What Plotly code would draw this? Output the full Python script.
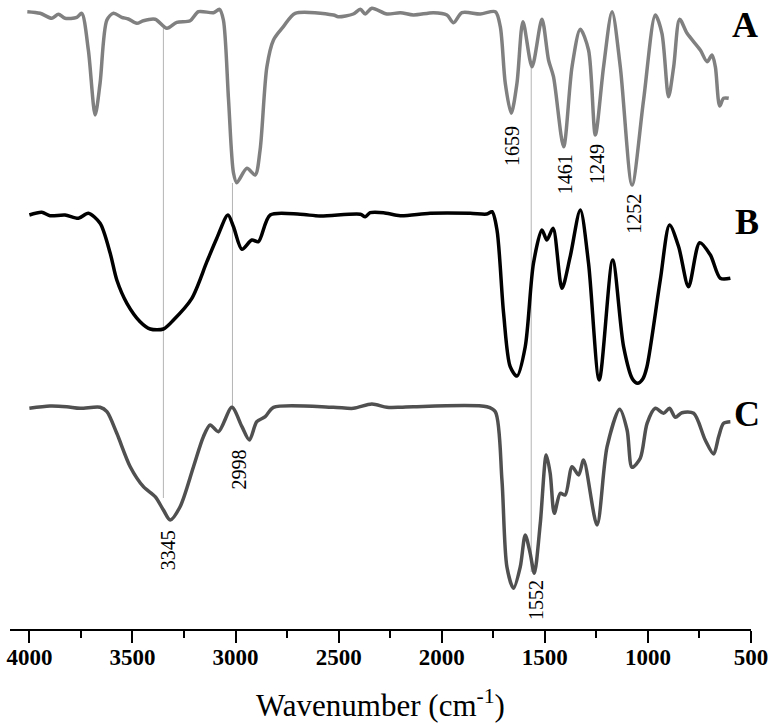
import plotly.graph_objects as go

# Spectrum A (arbitrary transmittance units, offset)
wn_a = [4010, 3948, 3891, 3859, 3827, 3770, 3746, 3714, 3681, 3657, 3624, 3592, 3552, 3520,
        3479, 3447, 3390, 3333, 3285, 3220, 3180, 3107, 3078, 3059, 3034, 3010, 2994, 2945,
        2905, 2881, 2848, 2816, 2768, 2711, 2525, 2502, 2429, 2395, 2371, 2339, 2266, 2201,
        2137, 2040, 1975, 1943, 1902, 1813, 1740, 1716, 1692, 1663, 1635, 1606, 1562, 1514,
        1482, 1458, 1409, 1368, 1328, 1288, 1255, 1215, 1174, 1134, 1077, 1021, 964, 932,
        900, 875, 846, 810, 746, 713, 689, 673, 652, 633, 608]
t_a = [617.3, 615.7, 610.7, 614.7, 610.7, 611.7, 615.7, 579, 514, 546, 609, 615.7, 611.7, 610,
       605.7, 608.3, 609.7, 600.7, 606.7, 608.3, 617.3, 616.3, 619.7, 609, 529, 456, 446.3, 460.7,
       454, 479, 562.3, 589, 602.3, 615.7, 614, 612.3, 615, 619.7, 615, 620.7, 615, 616.3,
       614, 616.3, 614, 606.3, 616.3, 615, 617.3, 602.3, 546, 515.7, 546, 607.3, 562.3, 609.7,
       569, 552.3, 482.3, 562.3, 599.7, 579, 494, 562.3, 617.3, 562.3, 444, 529, 614, 595.7,
       532.3, 562.3, 609.7, 595.7, 579, 567.3, 574, 562.3, 523, 530.7, 530.7]

# Spectrum B
wn_b = [4000, 3940, 3900, 3827, 3762, 3714, 3657, 3608, 3576, 3527, 3463, 3414, 3350, 3301,
        3212, 3139, 3091, 3037, 3010, 2969, 2921, 2889, 2832, 2687, 2590, 2395, 2371, 2347,
        2282, 2201, 2056, 1862, 1781, 1756, 1732, 1700, 1668, 1635, 1595, 1555, 1514, 1490,
        1460, 1417, 1377, 1328, 1288, 1236, 1171, 1118, 1075, 1050, 1025, 1005, 940, 895,
        851, 803, 749, 697, 649, 600]
t_b = [414, 416.7, 413.3, 414, 410.7, 415.7, 405.7, 375.7, 349, 325.7, 307.3, 300, 300, 309,
       330.7, 367.3, 390.7, 414, 402.3, 379.7, 389, 387.3, 414, 414.7, 413, 414.7, 412.3, 416.3,
       416.3, 413.3, 415.7, 415.7, 415, 417.3, 399, 315.7, 262.3, 253, 282.3, 365.7, 399, 389,
       400.7, 340.7, 372.3, 419, 365.7, 249, 369, 282.3, 250, 245.7, 250, 262, 349, 404,
       382.3, 342.3, 386.3, 374, 350.7, 350.7]

# Spectrum C
wn_c = [4000, 3900, 3819, 3754, 3657, 3624, 3576, 3511, 3447, 3390, 3350, 3317, 3269, 3204,
        3156, 3123, 3083, 3018, 2969, 2933, 2897, 2856, 2816, 2526, 2428, 2339, 2266, 2201,
        2137, 1781, 1740, 1708, 1684, 1652, 1619, 1595, 1571, 1551, 1522, 1493, 1474, 1454,
        1425, 1401, 1368, 1336, 1312, 1247, 1198, 1137, 1101, 1077, 1037, 1004, 964, 924,
        895, 867, 835, 778, 722, 681, 657, 633, 600]
t_c = [220.7, 223, 222.3, 220.7, 221.7, 217.3, 195.7, 162.3, 142.3, 132.3, 119, 109, 122.3, 162.3,
       192.3, 204, 197.3, 221.7, 202.3, 189, 207.3, 212.3, 221.7, 221.7, 220.7, 225, 221.7, 221.7,
       222.3, 222.3, 217.3, 149, 62.3, 40.7, 62.3, 94, 75.7, 55.7, 105.7, 174, 155.7, 115.7,
       135.7, 134, 162.3, 154, 169, 104, 182.3, 219.7, 199, 161.7, 170.7, 205.7, 220.7, 215.7,
       220.7, 211.7, 216.3, 215.7, 189, 175, 192.3, 205.7, 207.3]

# Guide lines
guide_wn = [3350, 3015, 1566]
guide_top = [601, 446, 562]
guide_bottom = [131, 222, 57]

# Peak labels
peak_text = ["1659", "1461", "1249", "1252", "3345", "2998", "1552"]
peak_wn = [1659, 1401, 1247, 1069, 3326, 2981, 1543]
peak_t = [483, 455, 465, 415, 79, 160, 29]

# Spectrum labels
spec_text = ["A", "B", "C"]
spec_wn = [527, 519, 519]
spec_t = [604, 407, 215]

tick_vals = [4000, 3500, 3000, 2500, 2000, 1500, 1000, 500]

SERIF = "Liberation Serif, Times New Roman, serif"

fig = go.Figure()

for w, y0, y1 in zip(guide_wn, guide_top, guide_bottom):
    fig.add_trace(go.Scatter(x=[w, w], y=[y0, y1], mode="lines",
                             line=dict(color="#b4b4b4", width=1), hoverinfo="skip"))

fig.add_trace(go.Scatter(x=wn_a, y=t_a, mode="lines", name="A",
                         line=dict(color="#808080", width=3.5, shape="spline", smoothing=0.8)))
fig.add_trace(go.Scatter(x=wn_b, y=t_b, mode="lines", name="B",
                         line=dict(color="#000000", width=3.5, shape="spline", smoothing=0.8)))
fig.add_trace(go.Scatter(x=wn_c, y=t_c, mode="lines", name="C",
                         line=dict(color="#505050", width=3.5, shape="spline", smoothing=0.8)))

for txt, w, t in zip(peak_text, peak_wn, peak_t):
    fig.add_annotation(x=w, y=t, text=txt, showarrow=False, textangle=-90,
                       font=dict(family=SERIF, size=20, color="#000"))

for txt, w, t in zip(spec_text, spec_wn, spec_t):
    fig.add_annotation(x=w, y=t, text=txt, showarrow=False,
                       font=dict(family=SERIF, size=36, color="#000", weight="bold"))

fig.update_layout(
    width=774, height=725,
    margin=dict(l=10, r=23, t=0, b=96, autoexpand=False),
    plot_bgcolor="white", paper_bgcolor="white",
    showlegend=False,
    font=dict(family=SERIF),
    xaxis=dict(
        range=[4094, 500], showgrid=False, zeroline=False, automargin=False,
        showline=True, linecolor="#000", linewidth=1.5,
        tickmode="array", tickvals=tick_vals, ticktext=[str(v) for v in tick_vals],
        ticks="outside", ticklen=12, tickwidth=1.5, tickcolor="#000",
        ticklabelstandoff=-5,
        tickfont=dict(family=SERIF, size=23, color="#000", weight="bold"),
        minor=dict(ticks="outside", ticklen=7, tickwidth=1.5, tickcolor="#000", dtick=250, tick0=500),
        title=dict(text="Wavenumber (cm<sup>-1</sup>)",
                   font=dict(family=SERIF, size=31, color="#000"), standoff=25),
    ),
    yaxis=dict(range=[0, 629], visible=False, fixedrange=True),
)

fig.write_html("out.html", post_script="document.body.style.margin='0';",
               config={"displayModeBar": False})
